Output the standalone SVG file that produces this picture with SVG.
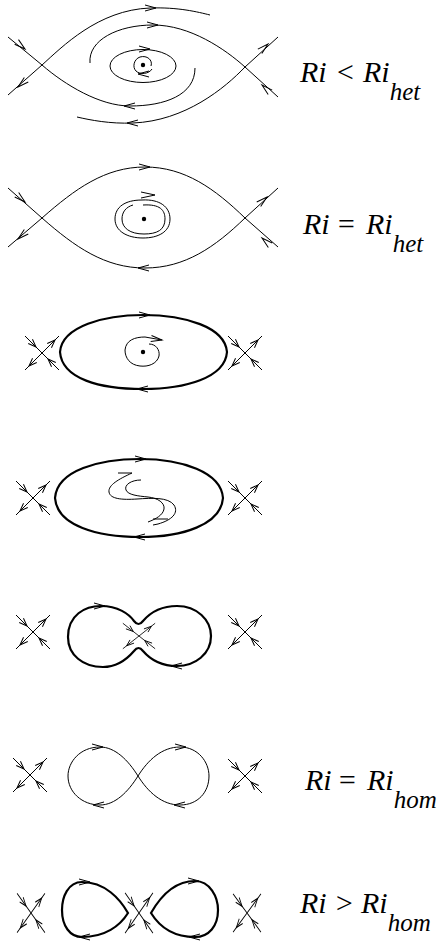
<svg xmlns="http://www.w3.org/2000/svg" xmlns:xlink="http://www.w3.org/1999/xlink" width="438" height="942" viewBox="0 0 438 942">
<style>
.t{fill:none;stroke:#000;stroke-width:1}
.k{fill:none;stroke:#000;stroke-width:2.2}
.lbl{font-family:"Liberation Serif","Times New Roman",serif;font-style:italic;font-size:30px;fill:#000}
.sub{font-size:25px}
</style>
<defs>
<path id="ah" class="t" d="M-11,-3 L0,0 L-11,3"/>
<path id="sa" class="t" d="M-8,-3 L0,0 L-8,3"/>
<g id="sad">
<path class="t" d="M-17,-17 L17,17 M-17,17 L17,-17"/>
<use href="#sa" transform="translate(-6,-6) rotate(45)"/>
<use href="#sa" transform="translate(6,6) rotate(225)"/>
<use href="#sa" transform="translate(13,-13) rotate(-45)"/>
<use href="#sa" transform="translate(-13,13) rotate(135)"/>
</g>
</defs>
<rect width="438" height="942" fill="#fff"/>

<g id="panel1">
<g id="p1-connectors">
<path class="t" d="M8,95 L42,65 C62,47 98,10 150,8 C178,7 198,12 210,15"/>
<path class="t" d="M90,63 C88,40 118,25 153,25 C190,25 225,49 245,67 L278,97"/>
<path class="t" d="M278,37 L245,67 C225,88 185,121 133,123 C110,124 90,120 77,117"/>
<path class="t" d="M8,37 L42,65 C65,85 100,106 130,106 C165,106 195,95 195,68"/>
<use href="#ah" transform="translate(156,8)"/>
<use href="#ah" transform="translate(158,25)"/>
<use href="#ah" transform="translate(127,123) rotate(180)"/>
<use href="#ah" transform="translate(124,106) rotate(180)"/>
<use href="#ah" transform="translate(25,49) rotate(40)"/>
<use href="#ah" transform="translate(18,87) rotate(139)"/>
<use href="#ah" transform="translate(268,44) rotate(-42)"/>
<use href="#ah" transform="translate(262,85) rotate(222)"/>
</g>
<g id="p1-focus">
<ellipse class="t" cx="143" cy="66" rx="33" ry="16.5"/>
<use href="#ah" transform="translate(150,49)"/>
<path class="t" d="M152,69 C149,74 140,75 136,71 C132,67 134,59 140,57 C147,55 153,60 151,66"/>
<use href="#ah" transform="translate(138,74) rotate(180)"/>
<circle cx="143" cy="65" r="2.2" fill="#000"/>
</g>
<text class="lbl" y="82"><tspan x="300">Ri</tspan><tspan x="335">&lt;</tspan><tspan x="363">Ri</tspan><tspan class="sub" dy="18">het</tspan></text>
</g>

<g id="panel2">
<g id="p2-connectors">
<path class="t" d="M8,247 L42,218 C75,189 105,167 145,167 C185,167 215,189 245,218 L278,247"/>
<path class="t" d="M8,188 L42,218 C75,247 105,268 145,268 C185,268 215,247 245,218 L278,188"/>
<use href="#ah" transform="translate(150,167)"/>
<use href="#ah" transform="translate(138,268) rotate(180)"/>
<use href="#ah" transform="translate(25,202) rotate(41)"/>
<use href="#ah" transform="translate(18,239) rotate(139)"/>
<use href="#ah" transform="translate(267,197) rotate(-41)"/>
<use href="#ah" transform="translate(262,238) rotate(221)"/>
</g>
<g id="p2-focus">
<path class="t" d="M143,205 C160,204 165,210 165,219 C165,230 157,234 144,234 C130,234 122,228 122,219 C122,212 126,207 133,205"/>
<path class="t" d="M142,200 C160,199 170,207 170,219 C170,232 158,238 143,238 C127,238 115,231 115,219 C115,207 125,200 142,200 Z"/>
<path class="t" d="M141,192 L155,195 L141,198"/>
<circle cx="144" cy="219" r="2.2" fill="#000"/>
</g>
<text class="lbl" y="234"><tspan x="303">Ri</tspan><tspan x="336">=</tspan><tspan x="366">Ri</tspan><tspan class="sub" dy="18">het</tspan></text>
</g>

<g id="panel3">
<use href="#sad" x="42" y="353"/>
<use href="#sad" x="245" y="353"/>
<path class="k" d="M60,352 C62,326 105,315 143,315 C185,315 225,327 227,352 C225,378 185,389 143,389 C100,389 62,379 60,352 Z"/>
<use href="#ah" transform="translate(150,315)"/>
<use href="#ah" transform="translate(137,389) rotate(180)"/>
<path class="t" d="M149,344 C156,344 160,350 159,356 C157,364 148,367 140,366 C130,365 125,358 125,350 C126,340 135,337 145,337 L162,340"/>
<use href="#ah" transform="translate(162,340) rotate(8)"/>
<circle cx="143" cy="352" r="2.2" fill="#000"/>
</g>

<g id="panel4">
<use href="#sad" x="33" y="498"/>
<use href="#sad" x="245" y="498"/>
<path class="k" d="M55,498 C57,470 100,459 140,459 C182,459 221,472 223,498 C221,525 182,537 140,537 C98,537 57,526 55,498 Z"/>
<use href="#ah" transform="translate(146,459)"/>
<use href="#ah" transform="translate(134,537) rotate(180)"/>
<path class="t" d="M118,473 L132,473 C119,479 108,485 109,492 C110,499 122,500 137,499 C152,498 168,497 174,505 C179,513 172,520 158,524 L153,525"/>
<path class="t" d="M141,480 C131,480 124,485 126,490 C128,495 138,496 148,497 C158,498 165,503 164,509 C163,515 156,519 148,522"/>
<path class="t" d="M153,519 L168,519"/>
</g>

<g id="panel5">
<use href="#sad" x="33" y="632"/>
<use href="#sad" x="245" y="632"/>
<use href="#sad" transform="translate(139,636) scale(0.95,0.75)"/>
<path class="k" d="M68,637 C68,615 85,606 101,606 C118,606 129,614 134,621 C137,625 140,625 143,621 C149,614 160,606 177,606 C197,606 211,620 211,636 C211,654 195,666 177,666 C160,666 149,658 143,651 C140,647 137,647 134,651 C128,658 118,667 103,667 C83,667 68,655 68,637 Z"/>
<use href="#ah" transform="translate(105,606)"/>
<use href="#ah" transform="translate(171,666) rotate(180)"/>
</g>

<g id="panel6">
<use href="#sad" x="30" y="775"/>
<use href="#sad" x="245" y="776"/>
<path class="t" d="M138,776 C128,760 115,747 100,747 C80,747 68,762 68,776 C68,792 82,805 100,805 C115,805 128,792 138,776 C148,760 162,747 180,747 C198,747 209,762 209,776 C209,792 198,805 180,805 C162,805 148,792 138,776 Z"/>
<use href="#ah" transform="translate(103,747)"/>
<use href="#ah" transform="translate(186,747)"/>
<use href="#ah" transform="translate(93,805) rotate(180)"/>
<use href="#ah" transform="translate(174,805) rotate(180)"/>
<text class="lbl" y="790"><tspan x="305">Ri</tspan><tspan x="337">=</tspan><tspan x="367">Ri</tspan><tspan class="sub" dy="18">hom</tspan></text>
</g>

<g id="panel7">
<use href="#sad" transform="translate(31,913) scale(0.82,1.15)"/>
<use href="#sad" transform="translate(247,913) scale(0.82,1.12)"/>
<use href="#sad" transform="translate(139,913) scale(0.82,1.18)"/>
<path class="k" d="M128,913 C120,899 105,882 82,882 C68,882 62,897 62,910 C62,926 70,937 82,937 C105,937 120,926 128,913 Z"/>
<path class="k" d="M151,913 C159,899 173,881 195,881 C210,881 218,897 218,910 C218,926 209,937 195,937 C173,937 159,926 151,913 Z"/>
<use href="#ah" transform="translate(90,882)"/>
<use href="#ah" transform="translate(199,881)"/>
<use href="#ah" transform="translate(79,937) rotate(180)"/>
<use href="#ah" transform="translate(189,937) rotate(180)"/>
<text class="lbl" y="913"><tspan x="300">Ri</tspan><tspan x="334">&gt;</tspan><tspan x="361">Ri</tspan><tspan class="sub" dy="18">hom</tspan></text>
</g>
</svg>
